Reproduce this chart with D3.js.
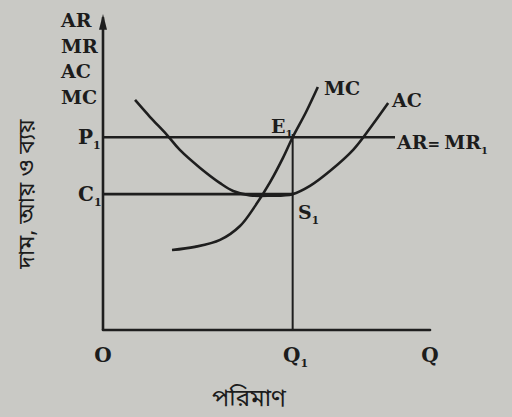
<!DOCTYPE html>
<html>
<head>
<meta charset="utf-8">
<script src="https://cdn.jsdelivr.net/npm/d3@7"></script>
<style>
  html, body { margin: 0; padding: 0; background: #c9c9c5; }
  svg { display: block; }
  text { font-family: "DejaVu Serif", "Liberation Serif", serif; font-weight: bold; fill: #1c1c1c; }
  .bn { font-family: "Noto Sans Bengali", "Noto Serif Bengali", "Lohit Bengali", "Noto Sans", sans-serif; font-weight: normal; }
</style>
</head>
<body>
<svg id="chart" width="512" height="417"></svg>
<script>
// Cost and revenue curves of a firm, in quantity / price units (0–100)
const mcQ = [21.1, 28.1, 35.8, 41.9, 46.5, 51.1, 55.0, 58.0, 62.1, 65.7];
const mcP = [25.3, 26.3, 28.5, 32.9, 39.2, 46.8, 54.4, 61.0, 69.0, 76.9];

const acQ = [9.8, 14.4, 19.6, 23.5, 29.7, 35.8, 39.8, 45.0, 51.1, 58.0, 63.3, 69.4, 76.5, 81.7, 87.2];
const acP = [72.8, 67.4, 61.7, 57.0, 51.3, 46.5, 44.0, 42.6, 42.5, 43.0, 45.6, 50.3, 57.0, 63.9, 71.8];

// Equilibrium price, minimum cost and output
const priceP1 = 61;
const costC1 = 43;
const outputQ1 = 58;
const arEndQ = 89.3;

const yAxisTitles = ["AR", "MR", "AC", "MC"];
const yTickLabels = [{ v: priceP1, t: "P" }, { v: costC1, t: "C" }];
const xTickLabels = [{ v: 0, t: "O", sub: "" }, { v: outputQ1, t: "Q", sub: "1" }, { v: 100, t: "Q", sub: "" }];

const svg = d3.select("#chart");
const x = d3.scaleLinear().domain([0, 100]).range([103, 430]);
const y = d3.scaleLinear().domain([0, 100]).range([330, 14]);

const ink = "#1e1e1e";
const lw = 2.6;

// Axes
svg.append("line").attr("x1", x(0)).attr("y1", y(0)).attr("x2", x(0)).attr("y2", y(99))
  .attr("stroke", ink).attr("stroke-width", lw);
svg.append("path")
  .attr("d", `M${x(0) - 4},${y(95)} L${x(0)},${y(100)} L${x(0) + 4},${y(95)} Z`)
  .attr("fill", ink);
svg.append("line").attr("x1", x(0)).attr("y1", y(0)).attr("x2", x(100)).attr("y2", y(0))
  .attr("stroke", ink).attr("stroke-width", lw).attr("stroke-linecap", "round");

// AR = MR price line, cost line, and output drop line
svg.append("line").attr("x1", x(0)).attr("y1", y(priceP1)).attr("x2", x(arEndQ)).attr("y2", y(priceP1))
  .attr("stroke", ink).attr("stroke-width", lw);
svg.append("line").attr("x1", x(0)).attr("y1", y(costC1)).attr("x2", x(outputQ1)).attr("y2", y(costC1))
  .attr("stroke", ink).attr("stroke-width", lw);
svg.append("line").attr("x1", x(outputQ1)).attr("y1", y(0)).attr("x2", x(outputQ1)).attr("y2", y(priceP1 + 1))
  .attr("stroke", ink).attr("stroke-width", 2);

// Curves
const line = d3.line().x(d => x(d[0])).y(d => y(d[1])).curve(d3.curveCatmullRom.alpha(0.5));
svg.append("path").attr("d", line(d3.zip(acQ, acP)))
  .attr("fill", "none").attr("stroke", ink).attr("stroke-width", lw);
svg.append("path").attr("d", line(d3.zip(mcQ, mcP)))
  .attr("fill", "none").attr("stroke", ink).attr("stroke-width", lw);

// Y-axis title stack
yAxisTitles.forEach((t, i) => {
  svg.append("text").attr("x", 61).attr("y", 27 + i * 25.5).attr("font-size", 19).text(t);
});

// Helper: label with subscript 1
function subLabel(px, py, main, sub, size, anchor) {
  const tx = svg.append("text").attr("x", px).attr("y", py).attr("font-size", size)
    .attr("text-anchor", anchor || "start");
  tx.append("tspan").text(main);
  if (sub) tx.append("tspan").attr("font-size", size * 0.55).attr("dy", 5).text(sub);
  return tx;
}

yTickLabels.forEach(d => subLabel(78, y(d.v) + 7, d.t, "1", 20));
xTickLabels.forEach(d => subLabel(x(d.v) + (d.sub ? 3 : 0), 362, d.t, d.sub, 20, "middle"));

// Curve and point labels
subLabel(271, 133, "E", "1", 19);
subLabel(298, 219, "S", "1", 19);
svg.append("text").attr("x", 324).attr("y", 95).attr("font-size", 19).text("MC");
svg.append("text").attr("x", 392).attr("y", 107).attr("font-size", 19).text("AC");
const arLab = svg.append("text").attr("x", 397).attr("y", 149).attr("font-size", 19);
arLab.append("tspan").text("AR");
arLab.append("tspan").attr("font-size", 15).text("=");
arLab.append("tspan").attr("dx", 4).text("MR");
arLab.append("tspan").attr("font-size", 10).attr("dy", 5).text("1");

// Axis titles (Bengali)
svg.append("text").attr("class", "bn").attr("x", 249).attr("y", 406)
  .attr("text-anchor", "middle").attr("font-size", 24).text("পরিমাণ");
svg.append("text").attr("class", "bn")
  .attr("transform", "translate(34,194) rotate(-90)")
  .attr("text-anchor", "middle").attr("font-size", 23).text("দাম, আয় ও ব্যয়");
</script>
</body>
</html>
